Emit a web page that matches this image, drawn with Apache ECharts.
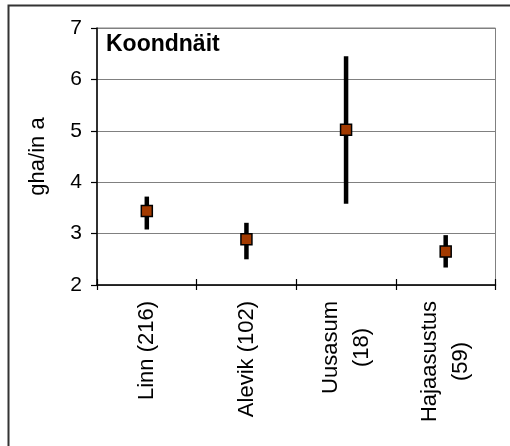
<!DOCTYPE html>
<html>
<head>
<meta charset="utf-8">
<script src="https://cdn.jsdelivr.net/npm/echarts@6/dist/echarts.min.js"></script>
<style>
  html, body { margin: 0; padding: 0; background: #fff; }
  #chart { width: 510px; height: 446px; }
</style>
</head>
<body>
<div id="chart"></div>
<script>
// Settlement types with number of respondents
var categories = ['Linn (216)', 'Alevik (102)', 'Uusasum\n(18)', 'Hajaasustus\n(59)'];
// Mean footprint (gha per person) and confidence interval bounds
var means = [3.44, 2.89, 5.02, 2.65];
var lows  = [3.08, 2.50, 3.58, 2.34];
var highs = [3.72, 3.21, 6.45, 2.97];
var yTicks = [2, 3, 4, 5, 6, 7];

var FONT = "'Liberation Sans', Arial, sans-serif";

var chart = echarts.init(document.getElementById('chart'), null, { renderer: 'canvas' });

var intervalData = categories.map(function (c, i) { return [i, lows[i], highs[i]]; });
var meanData = categories.map(function (c, i) { return [i, means[i]]; });

chart.setOption({
  animation: false,
  backgroundColor: '#ffffff',
  textStyle: { fontFamily: FONT },
  graphic: [{
    type: 'rect',
    shape: { x: 8.5, y: 5.5, width: 700, height: 700 },
    style: { fill: 'none', stroke: '#333333', lineWidth: 2 },
    silent: true,
    z: -10
  }],
  title: {
    text: 'Koondnäit',
    left: 106,
    top: 33,
    padding: 0,
    textStyle: { fontFamily: FONT, fontSize: 23, fontWeight: 'bold', color: '#000' }
  },
  grid: {
    left: 97, top: 28, right: 14.5, bottom: 161,
    show: true, borderColor: '#808080', borderWidth: 1,
    outerBoundsMode: 'none'
  },
  xAxis: [{
    type: 'category',
    position: 'bottom',
    data: categories,
    boundaryGap: true,
    axisLine: { show: true, lineStyle: { color: '#000', width: 1.5 } },
    axisTick: { show: true, inside: false, length: 5, alignWithLabel: false, lineStyle: { color: '#000', width: 1.2 } },
    axisLabel: {
      rotate: 90,
      margin: 16,
      interval: 0,
      color: '#000',
      fontFamily: FONT,
      fontSize: 22,
      formatter: function (v) {
        return v.split('\n').map(function (s) { return '{c|' + s + '}'; }).join('\n');
      },
      rich: { c: { align: 'center', fontFamily: FONT, fontSize: 22, lineHeight: 31, color: '#000' } }
    },
    splitLine: { show: false }
  }, {
    // inner half of the crossing tick marks
    type: 'category',
    position: 'bottom',
    data: categories,
    boundaryGap: true,
    axisLine: { show: false },
    axisTick: { show: true, inside: true, length: 6, lineStyle: { color: '#000', width: 1.2 } },
    axisLabel: { show: false },
    splitLine: { show: false }
  }],
  yAxis: {
    type: 'value',
    min: yTicks[0],
    max: yTicks[yTicks.length - 1],
    interval: 1,
    name: 'gha/in a',
    nameLocation: 'middle',
    nameGap: 48,
    nameRotate: 90,
    nameTextStyle: { fontFamily: FONT, fontSize: 22, color: '#000' },
    axisLine: { show: true, lineStyle: { color: '#000', width: 1.5 } },
    axisTick: { show: true, inside: false, length: 6, lineStyle: { color: '#000', width: 1.2 } },
    axisLabel: { margin: 15, color: '#000', fontFamily: FONT, fontSize: 21 },
    splitLine: { show: true, lineStyle: { color: '#808080', width: 1 } }
  },
  series: [{
    type: 'custom',
    xAxisIndex: 0,
    data: intervalData,
    z: 2,
    renderItem: function (params, api) {
      var top = api.coord([api.value(0), api.value(2)]);
      var bottom = api.coord([api.value(0), api.value(1)]);
      return {
        type: 'line',
        shape: { x1: top[0], y1: top[1], x2: bottom[0], y2: bottom[1] },
        style: { stroke: '#000', lineWidth: 4.5, lineCap: 'butt' }
      };
    }
  }, {
    type: 'scatter',
    xAxisIndex: 0,
    data: meanData,
    symbol: 'rect',
    symbolSize: 11,
    z: 3,
    itemStyle: { color: '#A33A00', borderColor: '#000', borderWidth: 1.5, opacity: 1 }
  }]
});
</script>
</body>
</html>
